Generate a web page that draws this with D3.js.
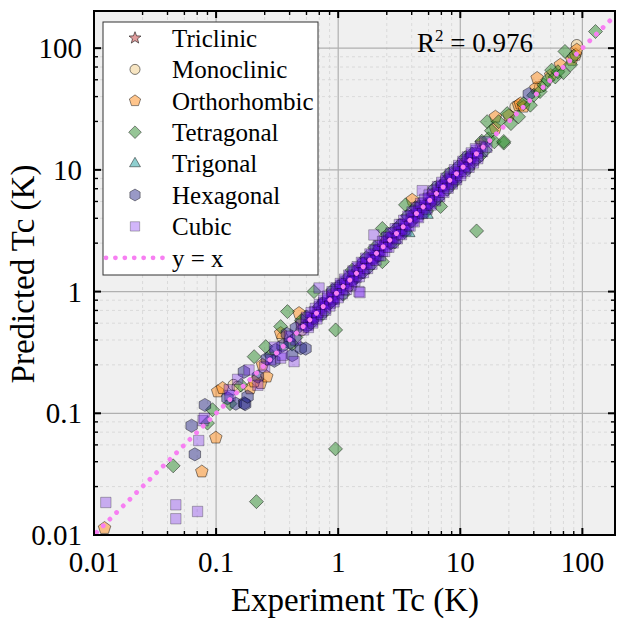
<!DOCTYPE html>
<html><head><meta charset="utf-8">
<script src="https://cdn.jsdelivr.net/npm/d3@7"></script>
<style>body{margin:0;background:#fff}svg{display:block}</style>
</head><body>
<svg id="chart" width="618" height="620"></svg>
<script>
// ---------- data (Experiment Tc, Predicted Tc) ----------
const classNames = ["Triclinic","Monoclinic","Orthorhombic","Tetragonal","Trigonal","Hexagonal","Cubic"];
const xTicks = [0.01, 0.1, 1, 10, 100];
const yTicks = [0.01, 0.1, 1, 10, 100];
const xTickLabels = ["0.01","0.1","1","10","100"];
const yTickLabels = ["0.01","0.1","1","10","100"];
const r2Value = "0.976";

const triclinic = [[0.8,0.78],[2.2,2.3]];
const monoclinic = [[0.139,0.171],[0.15,0.165],[0.35,0.42],[0.5,0.48],[1.2,1.1],[3.0,2.9],[8.0,8.5],[28.3,33],[45,48],[90,106]];
const orthorhombic = [[0.0122,0.0114],[0.0764,0.0332],[0.0995,0.063],[0.103,0.151],[0.113,0.161],[0.19,0.16],
  [0.232,0.177],[0.205,0.182],[0.24,0.25],[0.26,0.20],[0.338,0.455],[0.478,0.665],[0.5,0.55],[0.7,0.68],[0.9,0.95],
  [1.5,1.55],[2.5,2.6],[4.04,5.67],[6.0,6.3],[11,11.5],[15,16.5],[19.4,27.3],[19.4,22],[25,28],[30,34],[31,35],[33,33],
  [41.6,47],[42.6,56.8],[55,60],[66,73],[82,80],[88,88],[90,97]];
const tetragonal = [[0.0445,0.037],[0.085,0.083],[0.0935,0.107],[0.214,0.0188],[0.95,0.051],[13.6,3.15],
  [0.13,0.12],[0.16,0.17],[0.205,0.292],[0.255,0.353],[0.28,0.30],[0.338,0.516],[0.384,0.685],[0.45,0.42],[0.55,0.62],
  [0.6,0.55],[0.634,1.0],[0.7,0.75],[0.85,0.8],[0.953,0.484],[1.0,1.1],[1.2,1.3],[1.4,1.3],[1.6,1.45],[1.7,1.9],
  [2.1,2.0],[2.3,3.3],[2.3,1.76],[2.7,2.5],[3.0,3.3],[3.2,3.5],[3.56,5.16],[4.0,3.8],[4.6,5.0],[5.0,4.6],[5.8,5.5],
  [6.9,5.0],[7.5,8.0],[8.5,7.8],[9.5,10.5],[10.5,10.0],[12.5,13.5],[14.5,13.0],[16.6,24.9],[17,18],[19,17],
  [20.6,24.9],[22.7,16.6],[22.7,17.1],[24.2,29],[26,24],[30,27.3],[33,35],[37.5,34],[40,41],[45,44],[48.3,49.9],
  [52,55],[56,66],[60,58],[63,64],[70,63],[72,94],[80,73],[85,86],[128,137],
  [0.42,0.37],[0.5,0.58],[0.75,0.66],[0.9,1.03],[1.1,0.95],[1.3,1.5],[1.8,1.6],[2.0,2.3],[2.5,2.9],[2.9,2.55],
  [3.5,3.1],[3.7,4.2],[4.3,4.9],[5.3,4.6],[6.2,7.1],[6.5,5.8],[7.8,6.9],[8.0,9.2],[9.0,8.0],[11,12.6],[11.5,10.2],
  [13,11.8],[15,17.2],[16,14.5],[18,21]];
const trigonal = [[0.65,0.62],[1.3,1.35],[2.0,2.1],[3.8,3.02],[4.5,4.2],[5.36,4.27],[8.0,8.2]];
const hexagonal = [[0.063,0.079],[0.067,0.046],[0.081,0.117],[0.124,0.133],[0.145,0.12],[0.17,0.121],[0.173,0.119],
  [0.181,0.137],[0.169,0.219],[0.22,0.2],[0.26,0.28],[0.30,0.27],[0.307,0.332],[0.35,0.36],[0.38,0.45],[0.40,0.38],
  [0.42,0.30],[0.45,0.50],[0.494,0.343],[0.54,0.34],[0.55,0.52],[0.62,0.60],[0.75,0.80],[0.9,0.85],[1.1,1.15],
  [1.3,1.25],[1.6,1.7],[2.0,1.9],[2.6,2.7],[3.3,3.2],[4.2,4.3],[5.5,5.3],[7.0,7.3],[9.0,8.7],[12,12.5],[36.4,42]];
const cubic = [[0.0125,0.0185],[0.0468,0.0177],[0.0468,0.0136],[0.0705,0.0156],[0.0721,0.0597],[0.0782,0.087],
  [0.08,0.091],[0.128,0.156],[0.13,0.14],[0.15,0.19],[0.186,0.227],[0.22,0.17],[0.25,0.24],[0.28,0.275],[0.3,0.35],
  [0.338,0.284],[0.35,0.30],[0.40,0.43],[0.435,0.266],[0.45,0.40],[0.697,1.07],[1.48,1.0],[1.51,0.98],[1.96,2.92],[4.88,6.75],
  [0.50,0.535],[0.52,0.484],[0.545,0.583],[0.57,0.530],[0.59,0.631],[0.615,0.572],[0.64,0.685],[0.67,0.623],
  [0.70,0.749],[0.73,0.679],[0.76,0.813],[0.79,0.735],[0.82,0.877],[0.86,0.800],[0.89,0.952],[0.93,0.865],
  [0.97,1.038],[1.01,0.939],[1.05,1.124],[1.10,1.023],[1.14,1.220],[1.19,1.107],[1.24,1.327],[1.29,1.200],
  [1.35,1.445],[1.40,1.302],[1.46,1.562],[1.52,1.414],[1.59,1.701],[1.65,1.535],[1.72,1.840],[1.80,1.674],
  [1.87,2.001],[1.95,1.814],[2.03,2.172],[2.12,1.972],[2.21,2.365],[2.30,2.139],[2.40,2.568],[2.50,2.325],
  [2.60,2.782],[2.71,2.520],[2.83,3.028],[2.95,2.744],[3.07,3.285],[3.20,2.976],[3.33,3.563],[3.47,3.227],
  [3.62,3.873],[3.77,3.506],[3.93,4.205],[4.10,3.813],[4.27,4.569],[4.45,4.139],[4.63,4.954],[4.83,4.492],
  [5.03,5.382],[5.24,4.873],[5.46,5.842],[5.69,5.292],[5.93,6.345],[6.18,5.747],[6.44,6.891],[6.71,6.240],
  [6.99,7.479],[7.28,6.770],[7.59,8.121],[7.91,7.356],[8.24,8.817],[8.58,7.979],[8.94,9.566],[9.32,8.668],
  [9.71,10.39],[10.1,9.39],[10.5,11.24],[11.0,10.23],[11.4,12.20],[11.9,11.07],[12.4,13.27],[12.9,12.00],
  [13.5,14.45],[14.0,13.02],[14.6,15.62],[15.2,14.14],[15.9,17.01],[16.5,15.35],
  [0.6,0.61],[0.68,0.67],[0.78,0.79],[0.9,0.89],[1.03,1.04],[1.17,1.16],[1.33,1.34],[1.5,1.49],[1.7,1.72],
  [1.92,1.90],[2.17,2.19],[2.45,2.43],[2.77,2.80],[3.13,3.10],[3.55,3.58],[4.0,3.96],[4.55,4.60],[5.15,5.10],
  [5.8,5.86],[6.6,6.53],[7.45,7.52],[8.4,8.32],[9.5,9.6],[10.8,10.7],[12.2,12.3],[13.8,13.7],
  [0.55,0.616],[0.6,0.672],[0.65,0.728],[0.7,0.784],[0.76,0.851],[0.82,0.918],[0.89,0.997],[0.96,1.075],
  [1.04,1.165],[1.13,1.266],[1.22,1.366],[1.32,1.478],[1.43,1.602],[1.55,1.736],[1.68,1.882],[1.82,2.038],
  [1.97,2.206],[2.13,2.386],[2.31,2.587],[2.5,2.80],[2.71,3.035],[2.93,3.282],[3.17,3.55],[3.44,3.853],
  [3.72,4.166],[4.03,4.514],[4.37,4.894],[4.73,5.298],[5.12,5.734],[5.55,6.216],[6.01,6.731],[6.51,7.291],
  [7.05,7.896],[7.63,8.546],[8.27,9.262],[8.95,10.02],[9.7,10.86],[10.5,11.76],[11.4,12.77],[12.3,13.78],[13.3,14.9],
  [0.57,0.507],[0.62,0.552],[0.67,0.596],[0.73,0.650],[0.79,0.703],[0.855,0.761],[0.925,0.823],[1.0,0.89],
  [1.08,0.961],[1.17,1.041],[1.27,1.130],[1.37,1.219],[1.49,1.326],[1.61,1.433],[1.74,1.549],[1.89,1.682],
  [2.04,1.816],[2.21,1.967],[2.4,2.136],[2.6,2.314],[2.82,2.510],[3.05,2.715],[3.3,2.937],[3.58,3.186],
  [3.88,3.453],[4.2,3.738],[4.55,4.050],[4.93,4.388],[5.34,4.753],[5.78,5.144],[6.26,5.571],[6.78,6.034],
  [7.34,6.533],[7.95,7.076],[8.61,7.663],[9.33,8.304],[10.1,8.989],[10.9,9.701],[11.8,10.50],[12.8,11.39],[13.9,12.37]];
const seriesData = [triclinic, monoclinic, orthorhombic, tetragonal, trigonal, hexagonal, cubic];

// ---------- styles ----------
const styles = [
  {shape:"star",     fill:"#cd5c5c", op:0.6, r:7},
  {shape:"circle",   fill:"#f0d090", op:0.55, r:5.6},
  {shape:"pentagon", fill:"#ff8c1a", op:0.5, r:6.6},
  {shape:"diamond",  fill:"#2e8b2e", op:0.5, r:7},
  {shape:"triangle", fill:"#20a0a0", op:0.5, r:7},
  {shape:"hexagon",  fill:"#1c1c80", op:0.45, r:6.6},
  {shape:"square",   fill:"#6a0cf0", op:0.3, r:5.2}
];

function poly(n, r, rot){
  const pts=[];
  for(let i=0;i<n;i++){const a=rot+i*2*Math.PI/n; pts.push([r*Math.sin(a), -r*Math.cos(a)]);}
  return "M"+pts.map(p=>p[0].toFixed(2)+","+p[1].toFixed(2)).join("L")+"Z";
}
function shapePath(s, r){
  switch(s){
    case "square": return `M${-r},${-r}H${r}V${r}H${-r}Z`;
    case "diamond": return poly(4, r, 0);
    case "hexagon": return poly(6, r, 0);
    case "pentagon": return poly(5, r, 0);
    case "triangle": return poly(3, r, 0);
    case "circle": return `M${r},0A${r},${r} 0 1,1 ${-r},0A${r},${r} 0 1,1 ${r},0Z`;
    case "star": {
      const pts=[];
      for(let i=0;i<10;i++){const rr=i%2?r*0.42:r; const a=i*Math.PI/5; pts.push([rr*Math.sin(a), -rr*Math.cos(a)]);}
      return "M"+pts.map(p=>p[0].toFixed(2)+","+p[1].toFixed(2)).join("L")+"Z";
    }
  }
}

// ---------- layout ----------
const svg = d3.select("#chart");
const L=94, T=11, R=615, B=535;
const x = d3.scaleLog().domain([0.01,185]).range([L,R]);
const y = d3.scaleLog().domain([0.01,202]).range([B,T]);
const serif = "'Liberation Serif','Times New Roman',serif";

svg.append("rect").attr("x",L).attr("y",T).attr("width",R-L).attr("height",B-T).attr("fill","#f0f0f0");

const minorFactors = [2.5,4,5.5,7,8.5];
const xMinor=[], yMinor=[];
xTicks.forEach(d=>minorFactors.forEach(f=>{const v=d*f; if(v<185) xMinor.push(v);}));
yTicks.forEach(d=>minorFactors.forEach(f=>{const v=d*f; if(v<202) yMinor.push(v);}));

const grid = svg.append("g");
grid.selectAll(".xm").data(xMinor).join("line").attr("x1",d=>x(d)).attr("x2",d=>x(d)).attr("y1",T).attr("y2",B)
  .attr("stroke","#d4d4d4").attr("stroke-width",0.8).attr("stroke-dasharray","3,3");
grid.selectAll(".ym").data(yMinor).join("line").attr("y1",d=>y(d)).attr("y2",d=>y(d)).attr("x1",L).attr("x2",R)
  .attr("stroke","#d4d4d4").attr("stroke-width",0.8).attr("stroke-dasharray","3,3");
grid.selectAll(".xM").data(xTicks).join("line").attr("x1",d=>x(d)).attr("x2",d=>x(d)).attr("y1",T).attr("y2",B)
  .attr("stroke","#b0b0b0").attr("stroke-width",1.2);
grid.selectAll(".yM").data(yTicks).join("line").attr("y1",d=>y(d)).attr("y2",d=>y(d)).attr("x1",L).attr("x2",R)
  .attr("stroke","#b0b0b0").attr("stroke-width",1.2);

svg.append("clipPath").attr("id","clip").append("rect").attr("x",L).attr("y",T).attr("width",R-L).attr("height",B-T);
const plot = svg.append("g").attr("clip-path","url(#clip)");

seriesData.forEach((data,i)=>{
  const st=styles[i];
  const p=shapePath(st.shape, st.r);
  plot.append("g").selectAll("path").data(data).join("path")
    .attr("d",p).attr("transform",d=>`translate(${x(d[0])},${y(d[1])})`)
    .attr("fill",st.fill).attr("fill-opacity",st.op)
    .attr("stroke","#000").attr("stroke-opacity",st.op*0.9).attr("stroke-width",1);
});

const idLine = [0.0105, 200];
plot.append("path").datum(idLine).attr("d",d3.line().x(d=>x(d)).y(d=>y(d)))
  .attr("stroke","#f77ff2").attr("stroke-width",4.8).attr("stroke-dasharray","0.01,9.4")
  .attr("stroke-linecap","round").attr("fill","none");

// axes (inward ticks, mirrored)
const ax = svg.append("g").attr("stroke","#000");
function tickLines(vals, len, w){
  vals.forEach(v=>{
    ax.append("line").attr("x1",x(v)).attr("x2",x(v)).attr("y1",B).attr("y2",B-len).attr("stroke-width",w);
    ax.append("line").attr("x1",x(v)).attr("x2",x(v)).attr("y1",T).attr("y2",T+len).attr("stroke-width",w);
  });
}
function tickLinesY(vals, len, w){
  vals.forEach(v=>{
    ax.append("line").attr("y1",y(v)).attr("y2",y(v)).attr("x1",L).attr("x2",L+len).attr("stroke-width",w);
    ax.append("line").attr("y1",y(v)).attr("y2",y(v)).attr("x1",R).attr("x2",R-len).attr("stroke-width",w);
  });
}
tickLines(xTicks,7,2); tickLines(xMinor,4,1.4);
tickLinesY(yTicks,7,2); tickLinesY(yMinor,4,1.4);
svg.append("rect").attr("x",L).attr("y",T).attr("width",R-L).attr("height",B-T)
  .attr("fill","none").attr("stroke","#000").attr("stroke-width",2);

const lab = svg.append("g").attr("font-family",serif).attr("fill","#000");
lab.selectAll(".xl").data(xTicks).join("text").attr("x",d=>x(d)).attr("y",572).attr("text-anchor","middle")
  .attr("font-size",29).text((d,i)=>xTickLabels[i]);
lab.selectAll(".yl").data(yTicks).join("text").attr("x",L-12).attr("y",d=>y(d)).attr("dy","0.35em")
  .attr("text-anchor","end").attr("font-size",29).text((d,i)=>yTickLabels[i]);
lab.append("text").attr("x",355).attr("y",611).attr("text-anchor","middle").attr("font-size",33).text("Experiment Tc (K)");
lab.append("text").attr("transform","translate(34,274) rotate(-90)").attr("text-anchor","middle").attr("font-size",33).text("Predicted Tc (K)");

const r2 = lab.append("text").attr("x",417).attr("y",52).attr("font-size",27);
r2.append("tspan").text("R");
r2.append("tspan").attr("font-size",17).attr("dy",-11).text("2");
r2.append("tspan").attr("dy",11).text(" = "+r2Value);

// legend
const lg = svg.append("g");
lg.append("rect").attr("x",103).attr("y",22).attr("width",215).attr("height",253)
  .attr("fill","#fff").attr("stroke","#333").attr("stroke-width",1);
classNames.forEach((name,i)=>{
  const yy = 38 + i*31.4;
  const st = styles[i];
  lg.append("path").attr("d",shapePath(st.shape, st.r*0.9)).attr("transform",`translate(135,${yy})`)
    .attr("fill",st.fill).attr("fill-opacity",st.op).attr("stroke","#000").attr("stroke-opacity",st.op*0.9).attr("stroke-width",1);
  lg.append("text").attr("x",172).attr("y",yy).attr("dy","0.35em").attr("font-family",serif).attr("font-size",25).text(name);
});
const ly = 38 + 7*31.4;
lg.append("line").attr("x1",106).attr("x2",164).attr("y1",ly).attr("y2",ly)
  .attr("stroke","#f77ff2").attr("stroke-width",4.8).attr("stroke-dasharray","0.01,9.4").attr("stroke-linecap","round");
lg.append("text").attr("x",172).attr("y",ly).attr("dy","0.35em").attr("font-family",serif).attr("font-size",25).text("y = x");
</script>
</body></html>
